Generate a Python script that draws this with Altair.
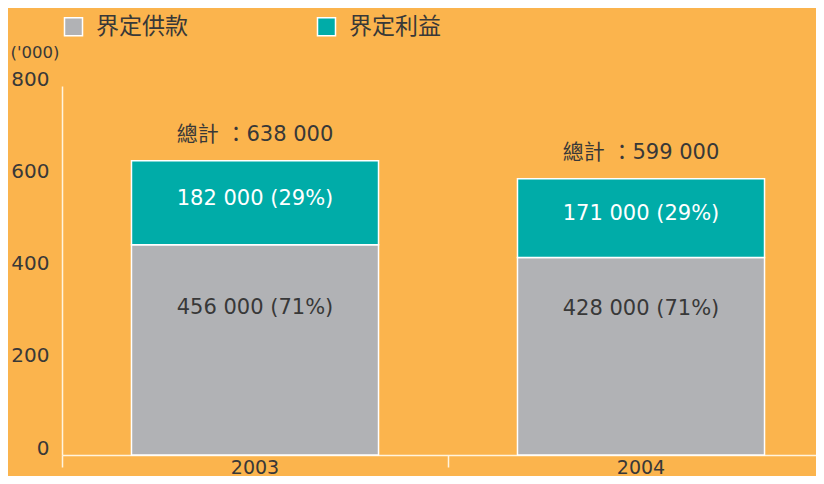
import altair as alt
import pandas as pd

years = ["2003", "2004"]
series = ["界定供款", "界定利益"]
dc_values = [456, 428]
db_values = [182, 171]
totals = [638, 599]
dc_pct = [71, 71]
db_pct = [29, 29]
y_ticks = [0, 200, 400, 600, 800]

FONT = "'DejaVu Sans', 'Noto Sans CJK TC', sans-serif"
TXT = "#383838"
BG = "#FBB44D"
LINE = "#FFF4DE"

rows = []
for i, y in enumerate(years):
    rows.append({"year": y, "series": series[0], "value": dc_values[i], "order": 0})
    rows.append({"year": y, "series": series[1], "value": db_values[i], "order": 1})
bars_df = pd.DataFrame(rows)

lab = pd.DataFrame({
    "year": years,
    "dc": dc_values,
    "db": db_values,
    "total": totals,
})
lab["db_mid"] = lab["dc"] + lab["db"] / 2
lab["dc_pos"] = [318, 316]
lab["db_text"] = [f"{v} 000 ({p}%)" for v, p in zip(db_values, db_pct)]
lab["dc_text"] = [f"{v} 000 ({p}%)" for v, p in zip(dc_values, dc_pct)]
lab["tot_text"] = [f"總計 ：{t} 000" for t in totals]

yscale = alt.Scale(domain=[0, 800], nice=False)
xscale = alt.Scale(domain=years, paddingInner=0, paddingOuter=0)

x_enc = alt.X("year:N", scale=xscale, sort=years, axis=alt.Axis(
    title=None, labelAngle=0, bandPosition=0,
    domainColor=LINE, domainWidth=1.5, tickColor=LINE, tickWidth=1.5, tickSize=12,
    labelFontSize=19, labelColor=TXT, labelFont=FONT, labelPadding=-9, grid=False))

bars = alt.Chart(bars_df).mark_bar(
    width=alt.RelativeBandSize(0.64), stroke="white", strokeWidth=1.5
).encode(
    x=x_enc,
    y=alt.Y("value:Q", stack="zero", scale=yscale, axis=alt.Axis(
        values=y_ticks, title="('000)", titleAngle=0, titleX=-52, titleY=-34,
        titleAlign="left", titleBaseline="middle", titleFontSize=16.5,
        titleFontWeight="normal", titleColor=TXT, titleFont=FONT,
        ticks=False, grid=False, domainColor=LINE, domainWidth=1.5,
        labelFontSize=20, labelColor=TXT, labelFont=FONT, labelPadding=13,
        labelOffset=-7)),
    color=alt.Color("series:N", scale=alt.Scale(domain=series, range=["#B1B2B5", "#00ACA8"]),
                    legend=alt.Legend(
                        title=None, orient="none", legendX=0, legendY=-71,
                        direction="horizontal", symbolType="square", symbolSize=324,
                        symbolStrokeColor="white", symbolStrokeWidth=1.5,
                        symbolOpacity=1, labelFontSize=23, labelColor=TXT,
                        labelFont=FONT, labelOffset=11, columnPadding=126, padding=0)),
    order=alt.Order("order:Q"),
)

db_text = alt.Chart(lab).mark_text(fontSize=21, color="white", font=FONT, dy=-4).encode(
    x=alt.X("year:N", scale=xscale, sort=years), y=alt.Y("db_mid:Q", scale=yscale), text="db_text:N")
dc_text = alt.Chart(lab).mark_text(fontSize=21, color=TXT, font=FONT).encode(
    x=alt.X("year:N", scale=xscale, sort=years), y=alt.Y("dc_pos:Q", scale=yscale), text="dc_text:N")
tot_text = alt.Chart(lab).mark_text(fontSize=21, color=TXT, font=FONT, dy=-26).encode(
    x=alt.X("year:N", scale=xscale, sort=years), y=alt.Y("total:Q", scale=yscale), text="tot_text:N")

chart = alt.layer(bars, db_text, dc_text, tot_text).properties(
    width=772, height=369,
    autosize=alt.AutoSizeParams(type="none"),
    padding={"left": 54, "top": 78, "right": -18, "bottom": 21},
    background=BG,
).configure_view(stroke=None)

chart.save("out.html", embed_options={"renderer": "svg", "actions": False})
